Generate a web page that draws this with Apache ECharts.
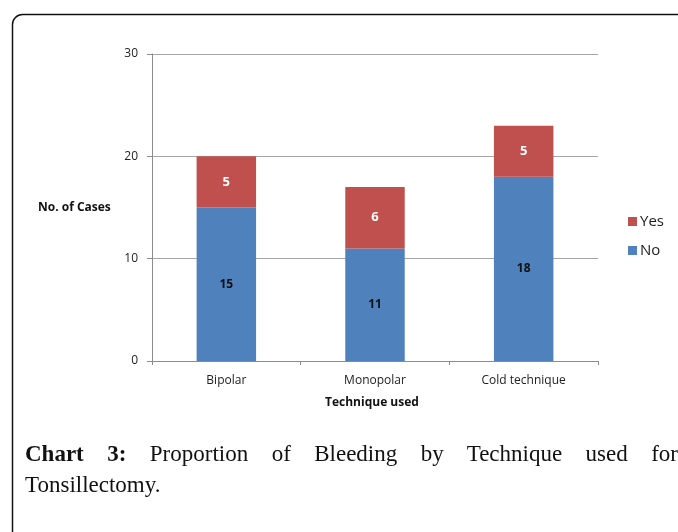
<!DOCTYPE html>
<html>
<head>
<meta charset="utf-8">
<script src="https://cdn.jsdelivr.net/npm/echarts@6/dist/echarts.min.js"></script>
<style>
html,body{margin:0;padding:0;background:#fff;}
#wrap{position:relative;width:678px;height:532px;overflow:hidden;}
#chart{position:absolute;left:0;top:0;width:678px;height:532px;}
#cap{position:absolute;left:25px;top:438px;width:653px;font-family:"Liberation Serif","DejaVu Serif",serif;font-size:23px;color:#111;line-height:31px;}
#cap .l1{text-align:justify;text-align-last:justify;white-space:normal;}
</style>
</head>
<body>
<div id="wrap">
<div id="chart"></div>
<div id="cap"><div class="l1"><b>Chart 3:</b> Proportion of Bleeding by Technique used for</div><div>Tonsillectomy.</div></div>
</div>
<script>
const categories = ["Bipolar", "Monopolar", "Cold technique"];
const noValues = [15, 11, 18];
const yesValues = [5, 6, 5];
const yTicks = [0, 10, 20, 30];

const chart = echarts.init(document.getElementById('chart'), null, {renderer:'canvas'});
const font = 'Open Sans';
chart.setOption({
  animation:false,
  textStyle:{fontFamily:font},
  grid:{left:152, right:80, top:54, bottom:171},
  legend:{
    orient:'vertical', left:623, top:209,
    data:['Yes','No'], itemWidth:9, itemHeight:9, itemGap:14,
    icon:'rect',
    textStyle:{fontSize:15, color:'#222', fontFamily:font, padding:[0,0,0,-2]}
  },
  graphic:[
    {type:'rect', silent:true, shape:{x:12.5, y:14.5, width:720, height:600, r:[10,0,0,0]}, style:{fill:'none', stroke:'#111', lineWidth:1.5}},
    {type:'text', left:38, top:202, style:{text:'No. of Cases', font:'bold 12px '+font, fill:'#111'}},
    {type:'text', left:325, top:397, style:{text:'Technique used', font:'bold 12px '+font, fill:'#111'}}
  ],
  xAxis:{
    type:'category', data:categories,
    axisLine:{lineStyle:{color:'#8c8c8c'}},
    axisTick:{show:true, length:4, lineStyle:{color:'#8c8c8c'}},
    axisLabel:{fontSize:12, color:'#222', margin:14}
  },
  yAxis:{
    type:'value', min:yTicks[0], max:yTicks[yTicks.length-1], interval:10,
    axisLine:{show:true, lineStyle:{color:'#8c8c8c'}},
    axisTick:{show:true, length:5, lineStyle:{color:'#8c8c8c'}},
    axisLabel:{fontSize:12, color:'#222', margin:14},
    splitLine:{lineStyle:{color:'#a6a6a6'}}
  },
  series:[
    {name:'No', type:'bar', stack:'t', data:noValues, barWidth:'40%',
     itemStyle:{color:'#4F81BD'},
     label:{show:true, position:'inside', color:'#111', fontWeight:'bold', fontSize:12, fontFamily:font}},
    {name:'Yes', type:'bar', stack:'t', data:yesValues, barWidth:'40%',
     itemStyle:{color:'#C0504D'},
     label:{show:true, position:'inside', color:'#fff', fontWeight:'bold', fontSize:13, fontFamily:font}}
  ]
});
</script>
</body>
</html>
